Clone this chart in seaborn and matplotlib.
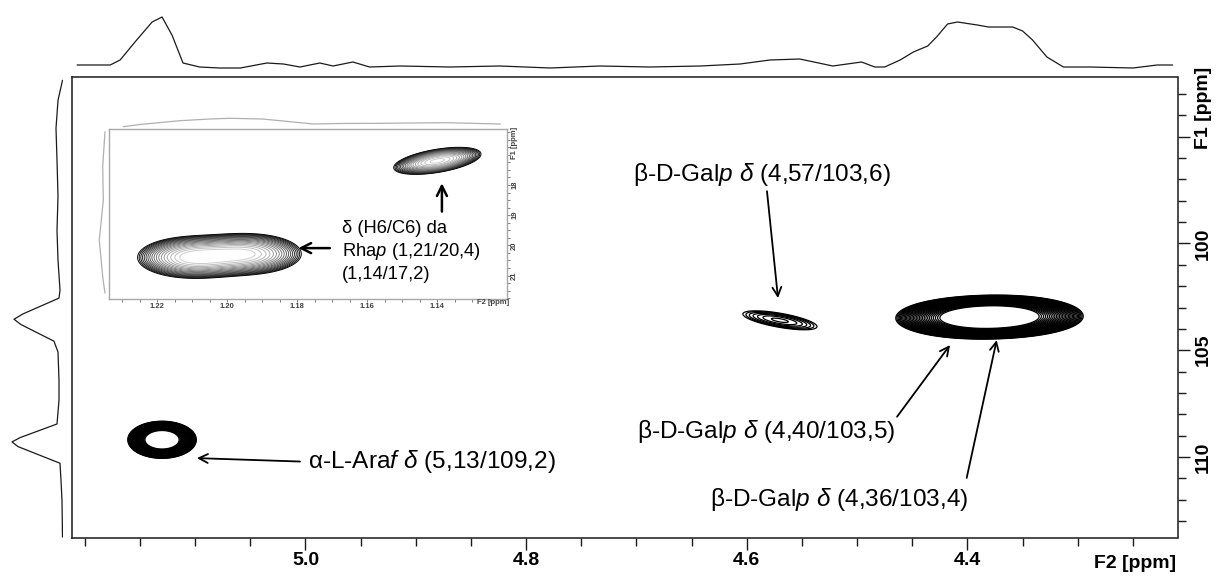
import numpy as np
import matplotlib
matplotlib.use("Agg")
import matplotlib.pyplot as plt
import matplotlib.transforms as mtransforms
from matplotlib.ticker import FixedLocator, MultipleLocator
import seaborn as sns

# ---------------- data ----------------
# HSQC cross peaks: F2 (1H) / F1 (13C), ppm
peak_h = [5.13, 4.57, 4.40, 4.36]
peak_c = [109.2, 103.6, 103.5, 103.4]
peak_amp = [1.62, 0.27, 1.0, 1.0]
peak_sh = [0.015, 0.040, 0.035, 0.035]
peak_sc = [0.42, 0.53, 0.49, 0.49]
peak_rho = [0.0, -0.66, 0.0, 0.0]

# Rhamnose H6/C6 region (expanded view)
rha_h = [1.21, 1.194, 1.14]
rha_c = [20.4, 20.28, 17.2]
rha_amp = [1.0, 0.9, 1.0]
rha_sh = [0.008, 0.008, 0.0064]
rha_sc = [0.35, 0.35, 0.23]
rha_rho = [0.0, 0.0, 0.5]

# 1H projection (top trace)
top_h = [5.207, 5.177, 5.168, 5.153, 5.139, 5.130, 5.121, 5.111, 5.096, 5.078,
         5.059, 5.035, 5.020, 5.005, 4.987, 4.975, 4.957, 4.942, 4.914, 4.869,
         4.824, 4.778, 4.733, 4.688, 4.642, 4.606, 4.579, 4.552, 4.522, 4.496,
         4.484, 4.475, 4.461, 4.449, 4.436, 4.428, 4.418, 4.409, 4.391, 4.381,
         4.359, 4.350, 4.341, 4.328, 4.313, 4.289, 4.250, 4.228, 4.214]
top_i = [0.10, 0.10, 0.20, 0.60, 0.96, 1.06, 0.70, 0.14, 0.06, 0.04,
         0.04, 0.14, 0.12, 0.06, 0.14, 0.08, 0.16, 0.06, 0.08, 0.06,
         0.08, 0.04, 0.08, 0.06, 0.08, 0.12, 0.20, 0.22, 0.08, 0.16,
         0.06, 0.06, 0.20, 0.36, 0.48, 0.66, 0.92, 0.96, 0.90, 0.86,
         0.86, 0.78, 0.60, 0.26, 0.06, 0.06, 0.04, 0.10, 0.10]

# 13C projection (left trace)
left_c = [92.35, 93.29, 94.60, 96.10, 97.78, 99.38, 100.78, 102.19, 102.56, 103.30,
          103.55, 103.80, 104.58, 105.09, 106.40, 107.34, 108.46, 109.10, 109.30, 109.52,
          110.30, 111.10, 112.03, 113.76]
left_i = [0.01, 0.10, 0.14, 0.12, 0.10, 0.12, 0.10, 0.06, 0.08, 0.80,
          0.98, 0.84, 0.18, 0.10, 0.08, 0.08, 0.12, 0.86, 1.02, 0.90,
          0.06, 0.04, 0.02, 0.01]

# projections of the expanded view
in_top_h = [1.2297, 1.225, 1.2135, 1.205, 1.1992, 1.19, 1.1849, 1.1755, 1.168, 1.1564, 1.1373, 1.122]
in_top_i = [0.13, 0.35, 0.73, 0.90, 0.97, 0.90, 0.73, 0.40, 0.45, 0.47, 0.53, 0.40]
in_left_c = [16.24, 17.39, 18.50, 19.83, 21.04, 21.58]
in_left_i = [0.17, 0.55, 0.45, 1.12, 0.55, 0.17]

# ---------------- style ----------------
sns.set_theme(style="white")
plt.rcParams["font.family"] = ["Liberation Sans", "DejaVu Sans"]
plt.rcParams["text.color"] = "black"
plt.rcParams["xtick.color"] = "black"
plt.rcParams["ytick.color"] = "black"
plt.rcParams["mathtext.fontset"] = "custom"
plt.rcParams["mathtext.rm"] = "Liberation Sans"
plt.rcParams["mathtext.it"] = "Liberation Sans:italic"
plt.rcParams["mathtext.bf"] = "Liberation Sans:bold"

W, H = 1218, 576
fig = plt.figure(figsize=(W / 100, H / 100), dpi=100)
fig.patch.set_facecolor("white")


def px_axes(l, t, r, b, **kw):
    return fig.add_axes([l / W, 1 - b / H, (r - l) / W, (b - t) / H], **kw)


def gauss_field(hh, cc, hs, cs, amps, shs, scs, rhos):
    Z = np.zeros_like(hh)
    for h0, c0, a, sh, sc, r in zip(hs, cs, amps, shs, scs, rhos):
        dx = (hh - h0) / sh
        dy = (cc - c0) / sc
        q = (dx ** 2 - 2 * r * dx * dy + dy ** 2) / (1 - r ** 2)
        Z += a * np.exp(-q / 2)
    return Z


XL = (5.2118, 4.2096)
YL = (113.79, 92.21)

# ---------------- main spectrum ----------------
ax = px_axes(71.8, 77.3, 1177.5, 537.7)
hg = np.linspace(XL[0], XL[1], 1500)
cg = np.linspace(YL[1], YL[0], 800)
HH, CC = np.meshgrid(hg, cg)
Z = gauss_field(HH, CC, peak_h, peak_c, peak_amp, peak_sh, peak_sc, peak_rho)
ax.contour(HH, CC, Z, levels=np.geomspace(0.19, 0.95, 30), colors="black",
           linewidths=0.9)
ax.set_xlim(*XL)
ax.set_ylim(*YL)
for s in ax.spines.values():
    s.set_color("#1a1a1a")
    s.set_linewidth(1.1)

ax.xaxis.set_major_locator(FixedLocator([5.0, 4.8, 4.6, 4.4]))
ax.set_xticklabels(["5.0", "4.8", "4.6", "4.4"], fontsize=14, fontweight="bold")
ax.xaxis.set_minor_locator(MultipleLocator(0.05))
ax.yaxis.tick_right()
ax.yaxis.set_major_locator(FixedLocator([95, 100, 105, 110]))
ax.set_yticklabels(["", "100", "105", "110"], fontsize=14, fontweight="bold",
                   rotation=90, va="center")
ax.yaxis.set_minor_locator(MultipleLocator(1))
ax.tick_params(which="major", length=8.6, width=1.0, color="#1a1a1a", direction="out")
ax.tick_params(which="minor", length=5.5, width=1.0, color="#1a1a1a", direction="out")
ax.tick_params(axis="x", which="both", bottom=True, pad=2)
ax.tick_params(axis="y", which="both", right=True, left=False, pad=4)
ax.set_xlabel("")
ax.set_ylabel("")

ax.text(4.248, -0.055, "F2 [ppm]", transform=mtransforms.blended_transform_factory(
    ax.transData, ax.transAxes), ha="center", va="center", fontsize=14,
    fontweight="bold")
ax.text(1.0231, 93.66, "F1 [ppm]", transform=mtransforms.blended_transform_factory(
    ax.transAxes, ax.transData), ha="center", va="center", fontsize=14,
    fontweight="bold", rotation=90)

arrow_kw = dict(arrowstyle="->", lw=1.3, color="black", mutation_scale=16,
                shrinkA=0, shrinkB=0)
fs = 17.6
ax.text(4.5862, 96.75, r"β-D-Gal$\mathit{p}$ $\mathit{δ}$ (4,57/103,6)",
        ha="center", va="center", fontsize=fs)
ax.annotate("", xy=(4.5717, 102.56), xytext=(4.5817, 97.55), arrowprops=arrow_kw)
ax.text(4.6998, 108.82, r"β-D-Gal$\mathit{p}$ $\mathit{δ}$ (4,40/103,5)",
        ha="left", va="center", fontsize=fs)
ax.annotate("", xy=(4.4158, 104.76), xytext=(4.4638, 108.12), arrowprops=arrow_kw)
ax.text(4.6333, 112.02, r"β-D-Gal$\mathit{p}$ $\mathit{δ}$ (4,36/103,4)",
        ha="left", va="center", fontsize=fs)
ax.annotate("", xy=(4.3735, 104.53), xytext=(4.4007, 110.99), arrowprops=arrow_kw)
ax.text(4.9977, 110.24, r"α-L-Ara$\mathit{f}$ $\mathit{δ}$ (5,13/109,2)",
        ha="left", va="center", fontsize=fs)
ax.annotate("", xy=(5.0984, 110.06), xytext=(5.005, 110.22), arrowprops=arrow_kw)

# ---------------- projections ----------------
ax_top = px_axes(71.8, 10, 1177.5, 70)
sns.lineplot(x=top_h, y=top_i, ax=ax_top, color="#1a1a1a", lw=0.9,
             sort=False, estimator=None)
ax_top.set_xlim(*XL)
ax_top.set_ylim(0, 1.2)
ax_top.axis("off")

ax_left = px_axes(8, 77.3, 63, 537.7)
sns.lineplot(x=left_i, y=left_c, ax=ax_left, color="#1a1a1a", lw=0.9,
             sort=False, estimator=None)
ax_left.set_xlim(1.1, 0)
ax_left.set_ylim(*YL)
ax_left.axis("off")

# ---------------- expanded H6/C6 view ----------------
XI = (1.2339, 1.1202)
YI = (21.775, 16.139)
ax_in = px_axes(108.5, 128.8, 506.7, 299)
ax_in.set_facecolor("white")
hi = np.linspace(XI[0], XI[1], 900)
ci = np.linspace(YI[1], YI[0], 500)
HI, CI = np.meshgrid(hi, ci)
ZI = gauss_field(HI, CI, rha_h, rha_c, rha_amp, rha_sh, rha_sc, rha_rho)
lv_in = np.geomspace(0.15, 0.95, 18)
greys = [str(g) for g in np.linspace(0.0, 0.8, len(lv_in))]
ax_in.contour(HI, CI, ZI, levels=lv_in, colors=greys, linewidths=0.7)
ax_in.set_xlim(*XI)
ax_in.set_ylim(*YI)
for s in ax_in.spines.values():
    s.set_color("#a8a8a8")
    s.set_linewidth(1.0)
ax_in.xaxis.set_major_locator(FixedLocator([1.22, 1.20, 1.18, 1.16, 1.14]))
ax_in.set_xticklabels(["1.22", "1.20", "1.18", "1.16", "1.14"], fontsize=5.5,
                      fontweight="bold", color="#404040")
ax_in.xaxis.set_minor_locator(MultipleLocator(0.005))
ax_in.yaxis.tick_right()
ax_in.yaxis.set_major_locator(FixedLocator([18, 19, 20, 21]))
ax_in.set_yticklabels(["18", "19", "20", "21"], fontsize=5.5, fontweight="bold",
                      color="#404040", rotation=90, va="center")
ax_in.yaxis.set_minor_locator(MultipleLocator(0.25))
ax_in.tick_params(which="both", length=2.2, width=0.7, color="#808080",
                  direction="out", pad=1)
ax_in.tick_params(axis="y", which="both", right=True, left=False)
ax_in.tick_params(axis="x", which="both", bottom=True, top=False)
ax_in.text(1.1241, -0.0235, "F2 [ppm]", transform=mtransforms.blended_transform_factory(
    ax_in.transData, ax_in.transAxes), ha="center", va="center", fontsize=5.5,
    fontweight="bold", color="#404040")
ax_in.text(1.02, 16.61, "F1 [ppm]", transform=mtransforms.blended_transform_factory(
    ax_in.transAxes, ax_in.transData), ha="center", va="center", fontsize=5.5,
    fontweight="bold", color="#404040", rotation=90)

fs_in = 13.2
ax_in.text(1.1673, 19.43, "δ (H6/C6) da", ha="left", va="center", fontsize=fs_in)
ax_in.text(1.1673, 20.21, r"Rha$\mathit{p}$ (1,21/20,4)", ha="left", va="center",
           fontsize=fs_in)
ax_in.text(1.1673, 20.98, "(1,14/17,2)", ha="left", va="center", fontsize=fs_in)
arrow_in = dict(arrowstyle="->", lw=1.8, color="black", mutation_scale=18,
                shrinkA=0, shrinkB=0)
ax_in.annotate("", xy=(1.1797, 20.09), xytext=(1.1707, 20.09), arrowprops=arrow_in)
ax_in.annotate("", xy=(1.1387, 17.94), xytext=(1.1387, 18.88), arrowprops=arrow_in)

ax_in_top = px_axes(108.5, 116, 506.7, 128)
sns.lineplot(x=in_top_h, y=in_top_i, ax=ax_in_top, color="#b0b0b0", lw=0.9,
             sort=False, estimator=None)
ax_in_top.set_xlim(*XI)
ax_in_top.set_ylim(0, 1.2)
ax_in_top.axis("off")

ax_in_left = px_axes(96, 128.8, 106, 299)
sns.lineplot(x=in_left_i, y=in_left_c, ax=ax_in_left, color="#b0b0b0", lw=0.9,
             sort=False, estimator=None)
ax_in_left.set_xlim(1.67, 0)
ax_in_left.set_ylim(*YI)
ax_in_left.axis("off")

fig.savefig("out.png", dpi=100, facecolor="white")
